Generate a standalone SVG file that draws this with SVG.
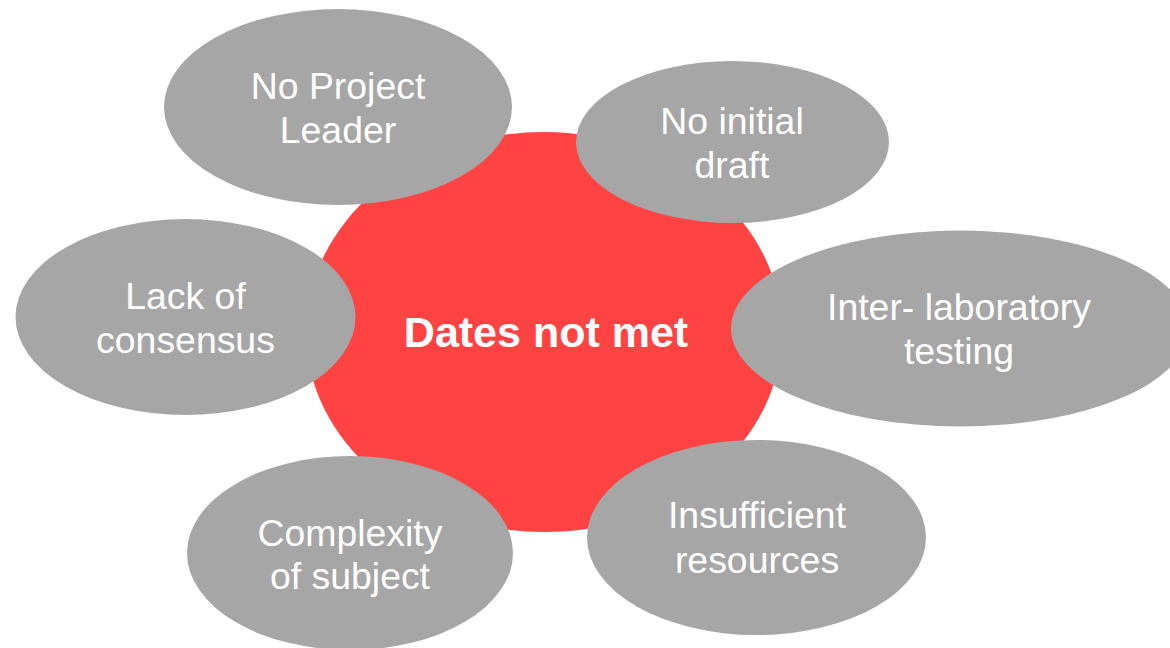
<svg xmlns="http://www.w3.org/2000/svg" width="1170" height="648" viewBox="0 0 1170 648">
<style>
.bg{fill:#FFFFFF}
.hub{fill:#FF4343}
.cause{fill:#A6A6A6}
.lbl{font-family:"Liberation Sans",Arial,sans-serif;font-size:37.4px;fill:#FFFFFF;text-anchor:middle}
.hubl{font-family:"Liberation Sans",Arial,sans-serif;font-size:43px;font-weight:bold;fill:#FFFFFF;text-anchor:middle}
</style>
<rect class="bg" x="0" y="0" width="1170" height="648"/>
<g id="connectors"></g>
<g id="hub">
<ellipse class="hub" cx="544" cy="332" rx="238" ry="200"/>
<text class="hubl" x="546" y="347">Dates not met</text>
</g>
<g id="no-project-leader">
<ellipse class="cause" cx="338" cy="107" rx="174" ry="98"/>
<text class="lbl" x="338" y="99">No Project</text>
<text class="lbl" x="338" y="143">Leader</text>
</g>
<g id="no-initial-draft">
<ellipse class="cause" cx="732.5" cy="142" rx="156.5" ry="81"/>
<text class="lbl" x="732" y="134">No initial</text>
<text class="lbl" x="732" y="178">draft</text>
</g>
<g id="lack-of-consensus">
<ellipse class="cause" cx="185.5" cy="317" rx="170" ry="98"/>
<text class="lbl" x="185.5" y="309">Lack of</text>
<text class="lbl" x="185.5" y="353">consensus</text>
</g>
<g id="inter-laboratory-testing">
<ellipse class="cause" cx="960" cy="328.5" rx="229" ry="98"/>
<text class="lbl" x="959" y="320">Inter- laboratory</text>
<text class="lbl" x="959" y="364">testing</text>
</g>
<g id="complexity-of-subject">
<ellipse class="cause" cx="350" cy="553" rx="163" ry="97"/>
<text class="lbl" x="350" y="546">Complexity</text>
<text class="lbl" x="350" y="589">of subject</text>
</g>
<g id="insufficient-resources">
<ellipse class="cause" cx="756.5" cy="537.5" rx="169.5" ry="97.5"/>
<text class="lbl" x="757" y="528">Insufficient</text>
<text class="lbl" x="757" y="573">resources</text>
</g>
</svg>
